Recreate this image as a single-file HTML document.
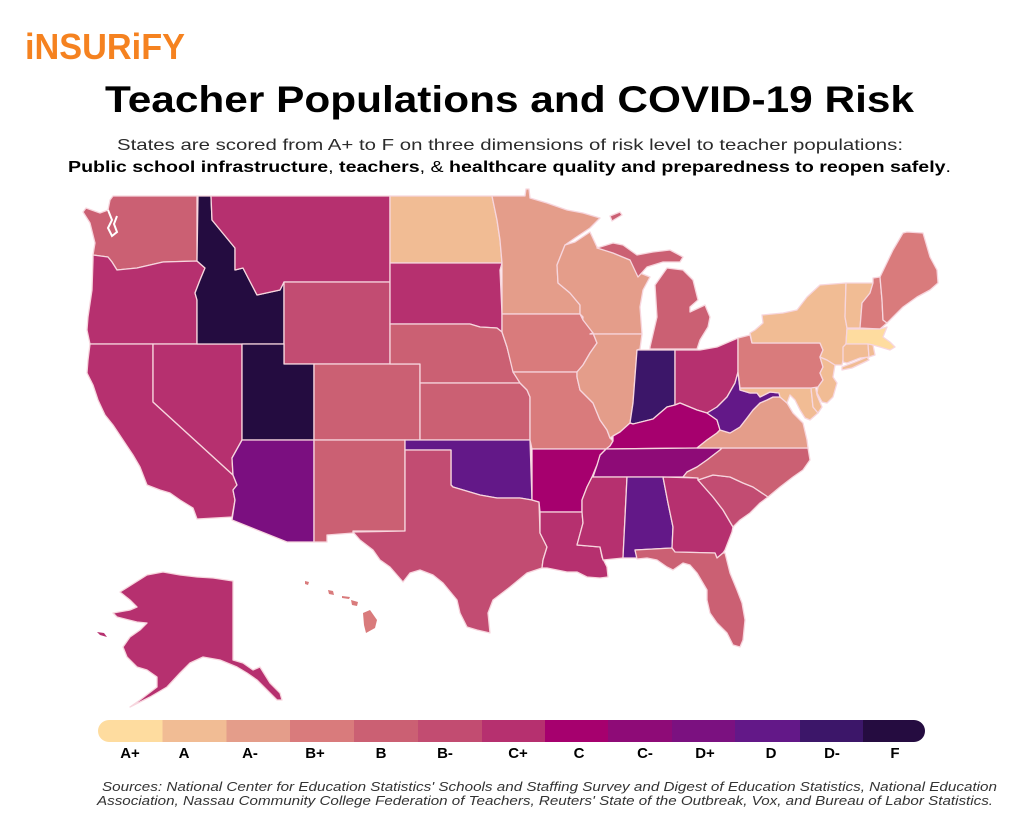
<!DOCTYPE html>
<html><head><meta charset="utf-8"><style>
html,body{margin:0;padding:0;background:#fff;}
svg{display:block;}
</style></head><body>
<svg width="1024" height="819" viewBox="0 0 1024 819" xmlns="http://www.w3.org/2000/svg">
<rect width="1024" height="819" fill="#fff"/>
<text x="25" y="59" font-family="Liberation Sans, sans-serif" font-weight="bold" font-size="36" fill="#f58220" textLength="160" lengthAdjust="spacingAndGlyphs">iNSURiFY</text>
<text x="105" y="112" font-family="Liberation Sans, sans-serif" font-weight="bold" font-size="37" fill="#000" textLength="809" lengthAdjust="spacingAndGlyphs">Teacher Populations and COVID-19 Risk</text>
<text x="117" y="150" font-family="Liberation Sans, sans-serif" font-size="16" fill="#2b2b2b" textLength="786" lengthAdjust="spacingAndGlyphs">States are scored from A+ to F on three dimensions of risk level to teacher populations:</text>
<text x="68" y="172" font-family="Liberation Sans, sans-serif" font-size="16" fill="#000" textLength="883" lengthAdjust="spacingAndGlyphs"><tspan font-weight="bold">Public school infrastructure</tspan>, <tspan font-weight="bold">teachers</tspan>, &amp; <tspan font-weight="bold">healthcare quality and preparedness to reopen safely</tspan>.</text>

<g stroke="#f7d6de" stroke-width="1.3" stroke-linejoin="round">
<!-- WA B -->
<polygon fill="#cb6073" points="113,196 197,196 197,261 163,262 137,268 117,270 112,262 108,257 93,255 95,243 90,223 83,212 86,208 100,213 108,210 110,200"/>
<!-- OR C+ -->
<polygon fill="#b6306f" points="93,255 108,257 112,262 117,270 137,268 163,262 197,261 205,268 200,280 195,293 197,300 197,344 90,344 87,330 88,317 92,290 93,260"/>
<!-- CA C+ -->
<polygon fill="#b6306f" points="90,344 153,344 153,402 233,475 237,485 233,490 235,500 232,517 197,519 193,508 180,500 170,493 160,490 147,485 140,467 133,455 123,440 113,425 105,415 98,400 93,385 87,373 88,360"/>
<!-- NV C+ -->
<polygon fill="#b6306f" points="153,344 242,344 242,440 232,458 233,475 153,402"/>
<!-- ID F -->
<polygon fill="#240c40" points="198,196 211,196 212,220 235,248 235,270 243,268 257,295 280,290 284,282 284,344 197,344 197,300 195,293 200,280 205,268 197,261"/>
<!-- MT C+ -->
<polygon fill="#b6306f" points="211,196 390,196 390,282 284,282 280,290 257,295 243,268 235,270 235,248 212,220"/>
<!-- WY B- -->
<polygon fill="#c24c72" points="284,282 390,282 390,364 314,364 284,364"/>
<!-- UT F -->
<polygon fill="#240c40" points="242,344 284,344 284,364 314,364 314,440 242,440"/>
<!-- AZ D+ -->
<polygon fill="#7b0f80" points="242,440 314,440 314,542 287,542 232,520 235,500 233,490 237,485 233,475 232,458"/>
<!-- CO B -->
<polygon fill="#cb6073" points="314,364 420,364 420,440 314,440"/>
<!-- NM B -->
<polygon fill="#cb6073" points="314,440 405,440 405,531 353,531 353,533 327,535 327,542 314,542"/>
<!-- ND A -->
<polygon fill="#f1bc94" points="390,196 492,196 497,220 500,240 502,263 390,263"/>
<!-- SD C+ -->
<polygon fill="#b6306f" points="390,263 502,263 500,270 502,314 502,332 497,328 480,327 470,324 390,324"/>
<!-- NE B -->
<polygon fill="#cb6073" points="390,324 470,324 480,327 497,328 502,332 507,347 513,370 520,383 420,383 420,364 390,364"/>
<!-- KS B -->
<polygon fill="#cb6073" points="420,383 520,383 527,390 530,397 530,440 420,440"/>
<!-- OK D -->
<polygon fill="#631888" points="405,440 530,440 532,500 520,498 497,498 480,495 453,487 451,485 451,450 405,450"/>
<!-- TX B- -->
<polygon fill="#c24c72" points="353,532 405,531 405,450 451,450 451,485 453,487 480,495 497,498 520,498 532,500 539,502 540,533 547,547 543,560 542,568 527,573 510,587 493,600 488,613 490,633 477,630 467,627 460,613 457,600 443,583 433,575 420,570 410,573 403,582 390,567 380,560 373,550 360,540"/>
<!-- MN A- -->
<polygon fill="#e49d8a" points="492,196 525,196 526,189 529,189 530,198 547,203 567,210 583,213 600,218 590,228 575,238 565,245 557,265 558,283 570,293 580,305 580,314 502,314 502,263 500,240 497,220"/>
<!-- WI A- -->
<polygon fill="#e49d8a" points="565,245 575,242 590,232 597,247 613,253 630,260 640,273 650,277 643,290 640,307 642,334 590,334 582,327 583,317 580,314 580,305 570,293 558,283 557,265"/>
<!-- MI UP B -->
<polygon fill="#cb6073" points="597,248 613,243 623,245 637,255 653,252 670,250 683,257 680,262 663,262 647,267 638,277 630,260 613,253"/>
<polygon fill="#cb6073" points="610,216 620,212 622,215 612,221"/>
<!-- MI LP B -->
<polygon fill="#cb6073" points="650,349 697,349 700,340 708,327 710,317 705,305 690,312 690,307 698,300 693,280 683,270 667,268 655,285 657,317 650,347"/>
<!-- IA B+ -->
<polygon fill="#d97b7c" points="502,314 580,314 583,320 593,333 597,343 590,353 583,365 577,372 513,372 507,347 502,332"/>
<!-- MO B+ -->
<polygon fill="#d97b7c" points="513,372 577,372 577,377 580,390 593,403 600,420 607,430 610,438 613,441 610,446 606,449 532,449 530,440 530,397 527,390 520,383"/>
<!-- IL A- -->
<polygon fill="#e49d8a" points="590,334 642,334 640,349 637,350 633,403 630,423 620,432 613,436 610,438 607,430 600,420 593,403 580,390 577,377 577,372 583,365 590,353 597,343 593,333"/>
<!-- IN D- -->
<polygon fill="#3c1669" points="637,350 675,350 675,405 667,407 653,419 633,424 630,423 633,403"/>
<!-- OH C+ -->
<polygon fill="#b6306f" points="675,350 700,350 717,347 738,338 738,372 735,383 727,397 717,407 707,413 697,410 680,403 675,405"/>
<!-- KY C -->
<polygon fill="#a6006e" points="610,446 613,441 613,436 620,432 630,423 633,424 653,419 667,407 675,405 680,403 697,410 707,413 717,420 720,430 717,433 707,440 697,448 606,449"/>
<!-- TN C- -->
<polygon fill="#8e0b77" points="606,449 697,448 722,448 720,450 707,460 697,467 687,472 683,477 593,477 597,465 600,455"/>
<!-- AR C -->
<polygon fill="#a6006e" points="532,449 606,449 600,455 597,465 592,477 587,487 582,500 582,512 540,512 539,502 532,500"/>
<!-- LA C+ -->
<polygon fill="#b6306f" points="540,512 582,512 583,523 577,545 600,547 602,557 607,567 608,577 600,578 587,577 577,572 567,572 557,570 547,568 542,568 543,560 547,547 540,533"/>
<!-- MS C+ -->
<polygon fill="#b6306f" points="593,477 627,477 623,558 603,560 600,547 577,545 583,523 582,512 582,500 587,487 592,477"/>
<!-- AL D -->
<polygon fill="#631888" points="627,477 663,477 668,503 673,527 672,548 635,550 637,558 623,558"/>
<!-- GA C+ -->
<polygon fill="#b6306f" points="663,477 698,478 698,480 713,497 723,510 733,527 732,532 725,550 723,553 717,558 715,553 675,552 672,548 673,527 668,503"/>
<!-- FL B -->
<polygon fill="#cb6073" points="635,550 672,548 675,552 715,553 717,558 723,553 725,553 730,573 737,590 742,603 745,620 743,640 740,647 733,645 727,633 717,623 710,613 707,600 707,590 697,573 690,565 683,563 673,570 667,567 657,560 647,558 637,559"/>
<!-- SC B- -->
<polygon fill="#c24c72" points="698,480 713,475 730,477 743,483 753,487 768,497 760,503 750,513 740,520 733,527 723,510 713,497"/>
<!-- NC B -->
<polygon fill="#cb6073" points="683,477 687,472 697,467 707,460 720,450 722,448 808,448 810,460 803,470 793,477 780,487 768,497 753,487 743,483 730,477 713,475 698,480 698,478"/>
<!-- VA A- -->
<polygon fill="#e49d8a" points="697,448 707,440 717,433 720,430 730,433 740,427 747,418 753,410 760,403 767,400 773,397 780,397 787,403 793,413 800,420 803,423 807,440 808,448"/>
<!-- WV D -->
<polygon fill="#631888" points="738,372 740,390 750,393 757,393 760,397 770,392 779,393 780,397 773,397 767,400 760,403 753,410 747,418 740,427 730,433 720,430 717,420 707,413 717,407 727,397 735,383"/>
<!-- MD A -->
<polygon fill="#f1bc94" points="740,388 811,388 813,407 818,413 810,420 805,418 800,410 795,400 790,395 787,403 780,397 779,393 770,392 760,397 757,393 750,393 740,390"/>
<!-- DE A -->
<polygon fill="#f1bc94" points="811,388 815,385 817,395 822,407 818,413 813,407"/>
<!-- PA B+ -->
<polygon fill="#d97b7c" points="738,338 750,335 752,343 820,343 823,350 820,357 823,367 820,373 823,380 818,387 811,388 740,388 738,372"/>
<!-- NJ A -->
<polygon fill="#f1bc94" points="820,357 827,360 835,365 833,377 837,383 833,397 827,403 822,402 817,393 818,387 823,380 820,373 823,367"/>
<!-- NY A -->
<polygon fill="#f1bc94" points="752,343 750,333 755,330 763,323 762,315 783,313 797,310 807,297 820,285 846,283 845,317 847,328 846,343 843,360 842,365 835,365 827,360 820,357 823,350 820,343"/>
<polygon fill="#f1bc94" points="842,367 855,362 867,357 869,360 852,368 842,370"/>
<!-- VT A -->
<polygon fill="#f1bc94" points="846,283 873,283 870,293 862,303 860,328 847,328 845,317"/>
<!-- NH B+ -->
<polygon fill="#d97b7c" points="873,283 873,278 880,277 882,300 883,320 887,323 880,329 860,328 862,303 870,293"/>
<!-- ME B+ -->
<polygon fill="#d97b7c" points="880,277 893,250 903,233 907,232 923,233 930,257 937,270 938,283 930,290 917,297 903,307 893,317 887,323 883,320 882,300"/>
<!-- MA A+ -->
<polygon fill="#fedc9f" points="847,329 880,329 887,327 883,337 890,342 895,347 890,350 880,347 873,345 868,344 846,344"/>
<!-- CT A -->
<polygon fill="#f1bc94" points="846,344 868,344 869,357 860,358 847,363 843,362 843,347"/>
<!-- RI A -->
<polygon fill="#f1bc94" points="868,344 873,345 875,355 869,357"/>
<!-- AK C+ -->
<polygon fill="#b6306f" points="120,592 147,575 163,572 180,575 197,577 213,578 233,581 233,660 243,663 253,670 260,667 270,683 280,693 282,700 277,700 267,690 257,680 247,673 237,667 220,660 203,657 190,663 180,673 167,687 150,697 130,707 140,700 157,687 157,677 147,670 137,667 127,657 123,647 130,637 140,630 147,623 137,622 117,617 113,613 130,610 137,607 130,600"/>
<polygon fill="#b6306f" stroke="none" points="97,632 104,633 107,637 100,635"/>
<!-- HI B+ -->
<g fill="#d97b7c" stroke="none">
<polygon points="363,613 370,610 377,620 375,628 366,633 364,625"/>
<polygon points="351,600 358,602 357,606 352,605"/>
<polygon points="342,596 350,597 349,599 342,598"/>
<polygon points="328,590 333,591 334,595 329,594"/>
<polygon points="305,581 309,582 308,585 305,584"/>
</g>
</g>
<!-- Puget sound -->
<path d="M108,210 L112,220 L108,228 L112,236 L117,232 L114,224 L117,216" fill="none" stroke="#fff" stroke-width="2"/>

<!-- Legend bar -->
<g>
<path d="M109,720 H163 V742 H109 A11,11 0 0 1 109,720 Z" fill="#fedc9f"/>
<rect x="162.5" y="720" width="64.5" height="22" fill="#f1bc94"/>
<rect x="226.5" y="720" width="64" height="22" fill="#e49d8a"/>
<rect x="290" y="720" width="64.5" height="22" fill="#d97b7c"/>
<rect x="354" y="720" width="64.5" height="22" fill="#cb6073"/>
<rect x="418" y="720" width="64.5" height="22" fill="#c24c71"/>
<rect x="482" y="720" width="63.5" height="22" fill="#b6306f"/>
<rect x="545" y="720" width="63.5" height="22" fill="#a6006e"/>
<rect x="608" y="720" width="64.5" height="22" fill="#8e0b77"/>
<rect x="672" y="720" width="63.5" height="22" fill="#7b1180"/>
<rect x="735" y="720" width="65.5" height="22" fill="#631888"/>
<rect x="800" y="720" width="63.5" height="22" fill="#3c1669"/>
<path d="M863,720 H914 A11,11 0 0 1 914,742 H863 Z" fill="#250c40"/>
</g>
<g font-family="Liberation Sans, sans-serif" font-weight="bold" font-size="15" fill="#000" text-anchor="middle">
<text x="130" y="758">A+</text>
<text x="184" y="758">A</text>
<text x="250" y="758">A-</text>
<text x="315" y="758">B+</text>
<text x="381" y="758">B</text>
<text x="445" y="758">B-</text>
<text x="518" y="758">C+</text>
<text x="579" y="758">C</text>
<text x="645" y="758">C-</text>
<text x="705" y="758">D+</text>
<text x="771" y="758">D</text>
<text x="832" y="758">D-</text>
<text x="895" y="758">F</text>
</g>
<text x="102" y="791" font-family="Liberation Sans, sans-serif" font-style="italic" font-size="13" fill="#333" textLength="895" lengthAdjust="spacingAndGlyphs">Sources: National Center for Education Statistics' Schools and Staffing Survey and Digest of Education Statistics, National Education</text>
<text x="97" y="805" font-family="Liberation Sans, sans-serif" font-style="italic" font-size="13" fill="#333" textLength="896" lengthAdjust="spacingAndGlyphs">Association, Nassau Community College Federation of Teachers, Reuters' State of the Outbreak, Vox, and Bureau of Labor Statistics.</text>
</svg>
</body></html>
